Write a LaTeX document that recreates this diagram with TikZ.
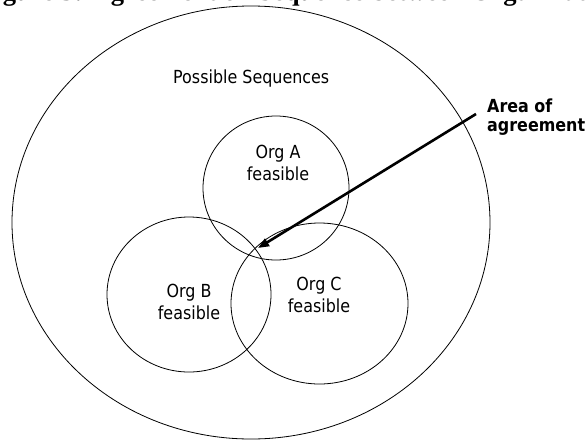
\documentclass[tikz,border=0pt]{standalone}
\usepackage{fontspec}
\setmainfont{DejaVu Sans}[FakeStretch=0.885]
\newfontfamily\capfont{Liberation Serif}
\usetikzlibrary{arrows.meta}
\tikzset{
  setring/.style={draw=black, line width=0.8pt},
  lbl/.style={inner sep=0pt, align=center, font=\fontsize{18}{21.5}\selectfont},
  callout/.style={inner sep=0pt, align=left, font=\fontsize{18}{19.5}\selectfont\bfseries},
  pointer/.style={line width=2.6pt, -{Triangle[length=11pt,width=8.5pt]}},
}
\begin{document}
\begin{tikzpicture}[x=1pt,y=-1pt]
\useasboundingbox (0,0) rectangle (587,440);
% clipped caption at top
\node[anchor=base west, inner sep=0pt, font=\capfont\bfseries\fontsize{26.6}{30}\selectfont] (cap) at (-21,0.5) {Figure 3: Agreement on Sequence between Organizations};
% sets
\draw[setring] (251,222.5) ellipse [x radius=239, y radius=216.5];
\draw[setring] (276,188) ellipse [x radius=73, y radius=72];
\draw[setring] (189,294.5) ellipse [x radius=82, y radius=77.5];
\draw[setring] (319.5,303.5) ellipse [x radius=88.5, y radius=80.5];
% labels
\node[anchor=base west, inner sep=0pt, font=\fontsize{18}{21.5}\selectfont] (ps) at (173,83) {Possible Sequences};
\node[lbl, anchor=north] (la) at (278,145) {Org A\\feasible};
\node[lbl, anchor=north] (lb) at (189,284) {Org B\\feasible};
\node[lbl, anchor=north] (lc) at (319,277) {Org C\\feasible};
\node[callout, anchor=north west] (area) at (487,98.5) {Area of\\agreement};
% arrow
\coordinate (from) at (476,114);
\coordinate (tip) at (258,248);
\draw[pointer] (from) -- (tip);
\end{tikzpicture}
\end{document}
